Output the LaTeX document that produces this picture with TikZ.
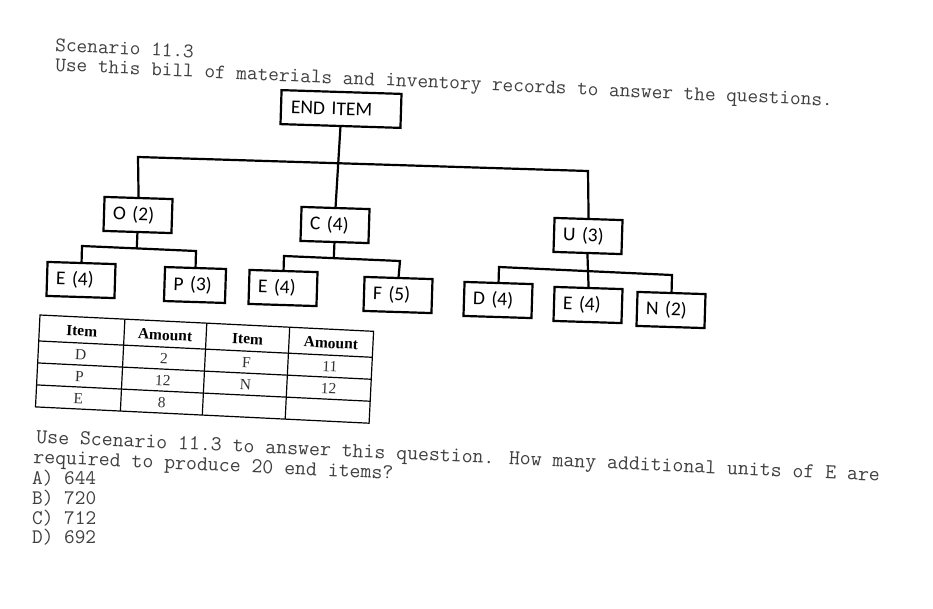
\documentclass[tikz,border=0pt]{standalone}
\usepackage{fontspec}
\setmainfont{Liberation Serif}
\newfontfamily\boxf{Carlito}
\usetikzlibrary{calc}
\begin{document}
\begin{tikzpicture}[x=1pt,y=-1pt,
  mono/.style={font=\ttfamily\fontsize{20.7}{22}\selectfont, text=black!75, inner sep=0pt, anchor=base west},
  monowide/.style={mono, font=\ttfamily\fontsize{21.2}{22}\selectfont},
  bom/.style={draw, line width=2.2pt, font=\boxf\fontsize{19.5}{22}\selectfont, minimum height=34pt, minimum width=68pt, text width=50pt, align=left, inner xsep=9pt, inner ysep=0pt, rotate=-1.8},
  link/.style={line width=2.2pt},
  grid/.style={line width=1.2pt},
  cell/.style={font=\fontsize{15.5}{18}\selectfont, text=black!80, transform shape, inner sep=0pt},
  head/.style={font=\bfseries\fontsize{15.5}{18}\selectfont, transform shape, inner sep=0pt},
  ]
\useasboundingbox[fill=white] (0,0) rectangle (933,608);

% header text
\node[mono, rotate=-2.7] (title) at (55,51) {Scenario 11.3};
\node[mono, rotate=-2.6] (intro) at (55,71) {Use this bill of materials and inventory records to answer the questions.};

% bill of materials
\node[bom, text width=100pt, minimum width=120pt] (end) at (341,109) {END ITEM};
\node[bom] (o) at (138,215) {O (2)};
\node[bom] (c) at (335,225) {C (4)};
\node[bom] (u) at (588,236) {U (3)};
\node[bom] (e1) at (81,280) {E (4)};
\node[bom, text width=43pt, minimum width=61pt] (p) at (195,285) {P (3)};
\node[bom] (e2) at (283,288) {E (4)};
\node[bom] (f) at (398,295) {F (5)};
\node[bom] (d) at (498,300) {D (4)};
\node[bom] (e3) at (588,305) {E (4)};
\node[bom] (n) at (671,310) {N (2)};

\coordinate (tbl) at (138,157);
\coordinate (tbr) at (588,171);
\coordinate (obl) at (82,246);
\coordinate (obr) at (196,251);
\coordinate (cbl) at (284,256);
\coordinate (cbr) at (400,261);
\coordinate (ubl) at (499,267);
\coordinate (ubr) at (672,275);

\draw[link] (o.north) -- (tbl) -- (tbr) -- (u.north);
\draw[link] (end.south) -- (c.north);
\draw[link] (e1.north) -- (obl) -- (obr) -- (p.north);
\draw[link] (o.south) -- ($(obl)!(o.south)!(obr)$);
\draw[link] (e2.north) -- (cbl) -- (cbr) -- (f.north);
\draw[link] (c.south) -- ($(cbl)!(c.south)!(cbr)$);
\draw[link] (d.north) -- (ubl) -- (ubr) -- (n.north);
\draw[link] (u.south) -- (e3.north);

% inventory table
\begin{scope}[shift={(40,315)}, rotate=-2.8]
  \draw[grid] (0,0) rectangle (334,92);
  \foreach \xx in {85,167,250} \draw[grid] (\xx,0) -- (\xx,92);
  \foreach \yy in {26,48,70} \draw[grid] (0,\yy) -- (334,\yy);
  \node[head] (h1) at (42.5,14) {Item};
  \node[head] (h2) at (126,14) {Amount};
  \node[head] (h3) at (208.5,14) {Item};
  \node[head] (h4) at (292,14) {Amount};
  \node[cell] (i1) at (42.5,37.5) {D};
  \node[cell] (a1) at (126,37.5) {2};
  \node[cell] (i2) at (42.5,59.5) {P};
  \node[cell] (a2) at (126,59.5) {12};
  \node[cell] (i3) at (42.5,81.5) {E};
  \node[cell] (a3) at (126,81.5) {8};
  \node[cell] (j1) at (208.5,37.5) {F};
  \node[cell] (b1) at (292,37.5) {11};
  \node[cell] (j2) at (208.5,59.5) {N};
  \node[cell] (b2) at (292,59.5) {12};
\end{scope}

% question
\node[monowide, rotate=-2.6] (q1) at (36,443) {Use Scenario 11.3 to answer this question. How many additional units of E are};
\node[monowide, rotate=-2.6] (q2) at (33,463) {required to produce 20 end items?};
\node[mono] (ansa) at (32,484) {A) 644};
\node[mono] (ansb) at (32,504) {B) 720};
\node[mono] (ansc) at (32,524) {C) 712};
\node[mono] (ansd) at (32,543) {D) 692};
\end{tikzpicture}
\end{document}
